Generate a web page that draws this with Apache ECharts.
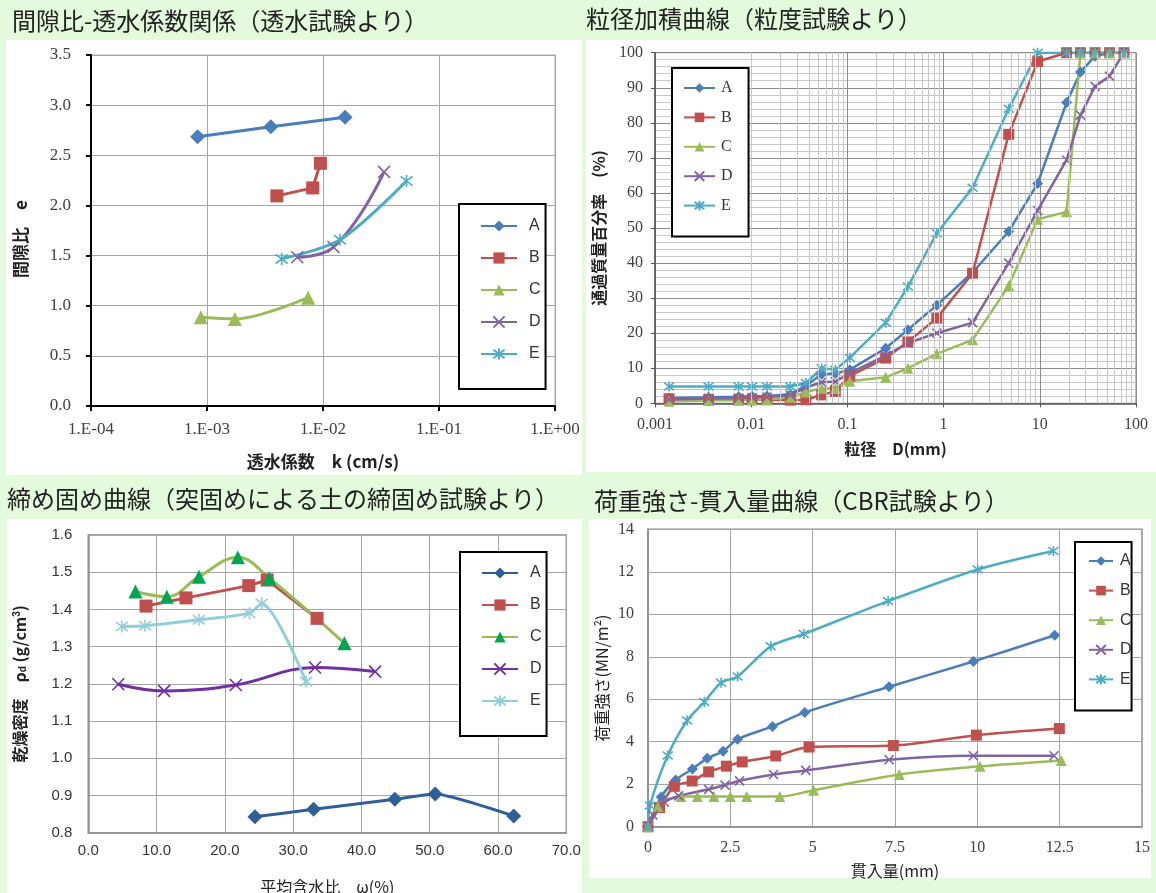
<!DOCTYPE html>
<html><head><meta charset="utf-8">
<script src="https://cdn.jsdelivr.net/npm/echarts@6/dist/echarts.min.js"></script>
<style>html,body{margin:0;padding:0;background:#e3fbdc}#c{width:1156px;height:893px}</style>
</head><body><div id="c"></div>
<script>
// ---------- Panel 1: void ratio vs permeability ----------
const permTickLabels = ['1.E-04','1.E-03','1.E-02','1.E-01','1.E+00'];
const permA_k = [8.3e-4, 3.55e-3, 1.55e-2];  const permA_e = [2.685, 2.785, 2.880];
const permB_k = [4.0e-3, 8.15e-3, 9.5e-3];   const permB_e = [2.095, 2.175, 2.420];
const permC_k = [8.85e-4, 1.74e-3, 7.45e-3]; const permC_e = [0.884, 0.867, 1.080];
const permD_k = [6.0e-3, 1.23e-2, 3.36e-2];  const permD_e = [1.483, 1.585, 2.335];
const permE_k = [4.4e-3, 1.40e-2, 5.25e-2];  const permE_e = [1.467, 1.657, 2.243];

// ---------- Panel 2: grain size accumulation curve ----------
const gradTickLabels = ['0.001','0.01','0.1','1','10','100'];
const grainSize = [0.0014, 0.0036, 0.0074, 0.0102, 0.0146, 0.0255, 0.037, 0.054, 0.075, 0.106,
                   0.25, 0.425, 0.85, 2, 4.75, 9.5, 19, 26.5, 37.5, 53, 75];
const grainA = [1.5, 1.7, 1.9, 2.0, 2.1, 2.6, 5.0, 8.3, 8.5, 9.6, 15.7, 21.0, 28.0, 37.3, 49.0, 62.7, 85.8, 94.5, 99.0, 100, 100];
const grainB = [1.3, 1.0, 1.0, 1.0, 1.0, 0.9, 1.0, 2.4, 3.4, 7.8, 12.9, 17.5, 24.3, 37.1, 76.7, 97.5, 100, 100, 100, 100, 100];
const grainC = [0.6, 0.8, 0.9, 1.0, 1.1, 1.7, 3.2, 4.3, 4.2, 6.3, 7.4, 10.0, 14.1, 18.1, 33.5, 52.5, 54.6, 100, 100, 100, 100];
const grainD = [1.1, 1.4, 1.5, 1.6, 1.8, 2.3, 4.5, 6.0, 6.2, 8.6, 13.6, 17.2, 20.0, 23.0, 40.0, 55.0, 69.4, 82.2, 90.4, 93.3, 100];
const grainE = [4.8, 4.8, 4.8, 4.8, 4.8, 4.8, 5.8, 10.0, 9.6, 13.0, 23.0, 33.3, 48.5, 61.5, 84.0, 100, 100, 100, 100, 100, 100];

// ---------- Panel 3: compaction curves ----------
const compA_w = [24.4, 33.0, 44.9, 50.8, 62.3];       const compA_d = [0.843, 0.863, 0.890, 0.904, 0.845];
const compB_w = [8.45, 14.3, 23.5, 26.2, 33.5];       const compB_d = [1.409, 1.431, 1.464, 1.479, 1.376];
const compC_w = [6.9, 11.5, 16.2, 21.9, 26.5, 37.5];  const compC_d = [1.448, 1.434, 1.488, 1.540, 1.484, 1.309];
const compD_w = [4.4, 11.1, 21.6, 33.2, 42.0];        const compD_d = [1.199, 1.181, 1.197, 1.244, 1.233];
const compE_w = [4.9, 8.3, 16.2, 23.6, 25.4, 31.9];   const compE_d = [1.354, 1.356, 1.372, 1.390, 1.416, 1.206];

// ---------- Panel 4: CBR load-penetration ----------
const cbrA_p = [0, 0.40, 0.84, 1.35, 1.80, 2.28, 2.72, 3.78, 4.76, 7.32, 9.88, 12.35];
const cbrA_q = [0, 1.40, 2.20, 2.72, 3.22, 3.55, 4.12, 4.72, 5.38, 6.59, 7.78, 9.01];
const cbrB_p = [0, 0.35, 0.80, 1.34, 1.84, 2.38, 2.86, 3.88, 4.89, 7.45, 9.97, 12.49];
const cbrB_q = [0, 0.90, 1.90, 2.15, 2.58, 2.85, 3.05, 3.33, 3.75, 3.82, 4.31, 4.62];
const cbrC_p = [0, 0.30, 1.00, 1.50, 2.00, 2.50, 3.00, 4.00, 5.03, 7.63, 10.08, 12.55];
const cbrC_q = [0, 0.95, 1.42, 1.42, 1.42, 1.42, 1.42, 1.42, 1.72, 2.46, 2.84, 3.12];
const cbrD_p = [0, 0.15, 0.50, 0.93, 1.84, 2.34, 2.78, 3.81, 4.79, 7.32, 9.88, 12.33];
const cbrD_q = [0, 0.55, 1.15, 1.45, 1.76, 1.96, 2.16, 2.46, 2.65, 3.15, 3.34, 3.34];
const cbrE_p = [0, 0.06, 0.60, 1.19, 1.71, 2.22, 2.72, 3.73, 4.73, 7.29, 10.01, 12.31];
const cbrE_q = [0, 1.00, 3.35, 5.00, 5.87, 6.78, 7.07, 8.49, 9.07, 10.62, 12.11, 12.98];

const seriesNames = ['A','B','C','D','E'];

// ---------- styling ----------
const CJK = '"Noto Sans CJK JP", sans-serif';
const SERIF = '"Liberation Serif", "DejaVu Serif", serif';
const SANS = '"Liberation Sans", Arial, sans-serif';
const SYM_X = 'path://M0,0L10,10M10,0L0,10';
const SYM_STAR = 'path://M0,0L10,10M10,0L0,10M5,-1.5L5,11.5';
const isPath = s => s.indexOf('path://') === 0;
const zip = (xs, ys) => xs.map((x, i) => [x, ys[i]]);

function mk(name, idx, xs, ys, lineColor, markColor, sym, size, width, smooth) {
  return {
    name: name, type: 'line', xAxisIndex: idx, yAxisIndex: idx,
    data: zip(xs, ys), symbol: sym, symbolSize: size, showSymbol: true,
    smooth: smooth || false, z: 3,
    lineStyle: { color: lineColor, width: width },
    itemStyle: { color: markColor, borderColor: markColor, borderWidth: isPath(sym) ? 1.6 : 0 },
    emphasis: { disabled: true }, animation: false
  };
}

const C1 = { A: '#4a7ebb', B: '#c0504d', C: '#9bbb59', D: '#8064a2', E: '#4bacc6' };

// minor log grid positions for panel 2 (2..9 in each decade)
const minorLog = [];
for (let e = -3; e <= 1; e++) for (let m = 2; m <= 9; m++) minorLog.push(+(m * Math.pow(10, e)).toPrecision(3));

const series = [
  { name: 'minor', type: 'line', xAxisIndex: 1, yAxisIndex: 1, data: [], z: 1, silent: true,
    markLine: { silent: true, symbol: ['none','none'], label: { show: false }, animation: false,
      lineStyle: { color: '#c8c8c8', width: 1, type: 'solid' }, emphasis: { disabled: true },
      data: minorLog.map(v => ({ xAxis: v })) } },
  // panel 1
  mk('A1', 0, permA_k, permA_e, C1.A, C1.A, 'diamond', 15, 3, false),
  mk('B1', 0, permB_k, permB_e, C1.B, C1.B, 'rect', 13, 3, false),
  mk('C1', 0, permC_k, permC_e, C1.C, C1.C, 'triangle', 14, 3, 0.3),
  mk('D1', 0, permD_k, permD_e, C1.D, C1.D, SYM_X, 12, 3, 0.45),
  mk('E1', 0, permE_k, permE_e, C1.E, C1.E, SYM_STAR, 12, 3, 0.3),
  // panel 2
  mk('A2', 1, grainSize, grainA, C1.A, C1.A, 'diamond', 11, 2.5, false),
  mk('B2', 1, grainSize, grainB, C1.B, C1.B, 'rect', 11, 2.5, false),
  mk('C2', 1, grainSize, grainC, C1.C, C1.C, 'triangle', 11, 2.5, false),
  mk('D2', 1, grainSize, grainD, C1.D, C1.D, SYM_X, 9, 2.5, false),
  mk('E2', 1, grainSize, grainE, C1.E, C1.E, SYM_STAR, 10, 2.5, false),
  // panel 3
  mk('A3', 2, compA_w, compA_d, '#2f5f98', '#2f5f98', 'diamond', 15, 3, 0.15),
  mk('B3', 2, compB_w, compB_d, '#c0504d', '#c0504d', 'rect', 13, 3, false),
  mk('C3', 2, compC_w, compC_d, '#9bbb59', '#00a651', 'triangle', 14, 3, 0.4),
  mk('D3', 2, compD_w, compD_d, '#7030a0', '#7030a0', SYM_X, 12, 3, 0.4),
  mk('E3', 2, compE_w, compE_d, '#92cddc', '#92cddc', SYM_STAR, 12, 3, 0.25),
  // panel 4
  mk('A4', 3, cbrA_p, cbrA_q, C1.A, C1.A, 'diamond', 11, 2.5, 0.3),
  mk('B4', 3, cbrB_p, cbrB_q, C1.B, C1.B, 'rect', 11, 2.5, 0.3),
  mk('C4', 3, cbrC_p, cbrC_q, C1.C, C1.C, 'triangle', 11, 2.5, 0.3),
  mk('D4', 3, cbrD_p, cbrD_q, C1.D, C1.D, SYM_X, 9, 2.5, 0.3),
  mk('E4', 3, cbrE_p, cbrE_q, C1.E, C1.E, SYM_STAR, 10, 2.5, 0.3)
];

function legendCfg(suffix, left, top, pad, iw, ih, gap, font, fsz, tpad) {
  return {
    data: seriesNames.map(n => n + suffix), orient: 'vertical', left: left, top: top,
    padding: pad, itemWidth: iw, itemHeight: ih, itemGap: gap,
    borderColor: '#000', borderWidth: 2, backgroundColor: '#fff', borderRadius: 0,
    selectedMode: false, formatter: n => n.charAt(0),
    textStyle: { fontFamily: font, fontSize: fsz, color: '#333', padding: [0, 0, 0, tpad] }
  };
}

const titleStyle = { fontFamily: CJK, fontSize: 24, fontWeight: 'normal', color: '#222' };
const nameBold = sz => ({ fontFamily: CJK, fontSize: sz, fontWeight: 'bold', color: '#222' });
const nameReg = sz => ({ fontFamily: CJK, fontSize: sz, fontWeight: 'normal', color: '#222' });
const rect = (x, y, w, h, fill, z) => ({ type: 'rect', shape: { x: x, y: y, width: w, height: h }, style: { fill: fill }, z: z, silent: true });

const option = {
  backgroundColor: '#e3fbdc',
  animation: false,
  graphic: [
    rect(6, 40, 576, 435, '#ffffff', -100), rect(586, 40, 570, 432, '#ffffff', -100),
    rect(7, 519, 575, 374, '#ffffff', -100), rect(589, 519, 562, 359, '#ffffff', -100),
    // panel edge over the overflowing tick label of panel 1
    rect(582, 412, 4, 36, '#e3fbdc', 100), rect(586, 412, 14, 36, '#ffffff', 100)
  ],
  title: [
    { text: '間隙比-透水係数関係（透水試験より）', left: 12, top: 9, padding: 0, textStyle: titleStyle },
    { text: '粒径加積曲線（粒度試験より）', left: 586, top: 7, padding: 0, textStyle: titleStyle },
    { text: '締め固め曲線（突固めによる土の締固め試験より）', left: 7, top: 487, padding: 0, textStyle: titleStyle },
    { text: '荷重強さ-貫入量曲線（CBR試験より）', left: 594, top: 489, padding: 0, textStyle: titleStyle }
  ],
  legend: [
    legendCfg('1', 459, 204, [14, 5, 27, 21], 36, 14, 16, SANS, 16, 7),
    legendCfg('2', 672, 68, [12, 16, 23, 11], 31, 12, 13.4, SERIF, 16, 1),
    legendCfg('3', 460, 552, [13, 5, 27, 21], 36, 14, 16, SANS, 16, 7),
    legendCfg('4', 1075, 542, [11, 0, 23, 13], 24, 12, 13.6, SANS, 16, 2)
  ],
  grid: [
    { left: 91, top: 55, width: 464, height: 351, show: true, borderColor: '#a6a6a6', borderWidth: 1, backgroundColor: 'transparent', containLabel: false, outerBoundsMode: 'none' },
    { left: 655, top: 52.7, width: 481, height: 350.6, show: true, borderColor: '#777', borderWidth: 1, backgroundColor: 'transparent', containLabel: false, outerBoundsMode: 'none' },
    { left: 88.3, top: 535, width: 478, height: 297.7, show: true, borderColor: '#8c8c8c', borderWidth: 1.5, backgroundColor: 'transparent', containLabel: false, outerBoundsMode: 'none' },
    { left: 648, top: 529.3, width: 494, height: 297.4, show: true, borderColor: '#8c8c8c', borderWidth: 1.5, backgroundColor: 'transparent', containLabel: false, outerBoundsMode: 'none' }
  ],
  xAxis: [
    { gridIndex: 0, type: 'log', logBase: 10, min: 1e-4, max: 1,
      axisLine: { show: true, onZero: false, lineStyle: { color: '#000', width: 2 } },
      axisTick: { show: true, length: 5, lineStyle: { color: '#000', width: 2 } },
      splitLine: { show: true, lineStyle: { color: '#a6a6a6', width: 1 } },
      axisLabel: { formatter: v => permTickLabels[Math.round(Math.log10(v)) + 4], fontFamily: SERIF, fontSize: 17, color: '#404040', margin: 15, showMinLabel: true, showMaxLabel: true },
      name: '透水係数　k (cm/s)', nameLocation: 'middle', nameGap: 47, nameTextStyle: nameBold(17) },
    { gridIndex: 1, type: 'log', logBase: 10, min: 0.001, max: 100,
      axisLine: { show: true, onZero: false, lineStyle: { color: '#555', width: 1.5 } },
      axisTick: { show: true, length: 4, lineStyle: { color: '#555', width: 1 } },
      splitLine: { show: true, lineStyle: { color: '#8c8c8c', width: 1 } },
      axisLabel: { formatter: v => gradTickLabels[Math.round(Math.log10(v)) + 3], fontFamily: SERIF, fontSize: 16, color: '#404040', margin: 13, showMinLabel: true, showMaxLabel: true },
      name: '粒径　D(mm)', nameLocation: 'middle', nameGap: 38, nameTextStyle: nameBold(16) },
    { gridIndex: 2, type: 'value', min: 0, max: 70, interval: 10,
      axisLine: { show: true, onZero: false, lineStyle: { color: '#8c8c8c', width: 1.5 } },
      axisTick: { show: false },
      splitLine: { show: true, lineStyle: { color: '#a6a6a6', width: 1 } },
      axisLabel: { formatter: v => v.toFixed(1), fontFamily: SANS, fontSize: 15, color: '#333', margin: 11, showMinLabel: true, showMaxLabel: true },
      name: '平均含水比　ω(%)', nameLocation: 'middle', nameGap: 46, nameTextStyle: nameReg(16) },
    { gridIndex: 3, type: 'value', min: 0, max: 15, interval: 2.5,
      axisLine: { show: true, onZero: false, lineStyle: { color: '#8c8c8c', width: 1.5 } },
      axisTick: { show: false },
      splitLine: { show: true, lineStyle: { color: '#a6a6a6', width: 1 } },
      axisLabel: { fontFamily: SERIF, fontSize: 16, color: '#404040', margin: 13, showMinLabel: true, showMaxLabel: true },
      name: '貫入量(mm)', nameLocation: 'middle', nameGap: 36, nameTextStyle: nameReg(16) }
  ],
  yAxis: [
    { gridIndex: 0, type: 'value', min: 0, max: 3.5, interval: 0.5,
      axisLine: { show: true, onZero: false, lineStyle: { color: '#000', width: 2 } },
      axisTick: { show: true, length: 5, lineStyle: { color: '#000', width: 2 } },
      splitLine: { show: true, lineStyle: { color: '#a6a6a6', width: 1 } },
      axisLabel: { formatter: v => v.toFixed(1), fontFamily: SERIF, fontSize: 17, color: '#404040', margin: 20 },
      name: '間隙比　e　', nameLocation: 'middle', nameRotate: 90, nameGap: 62, nameTextStyle: nameBold(17) },
    { gridIndex: 1, type: 'value', min: 0, max: 100, interval: 10,
      axisLine: { show: true, onZero: false, lineStyle: { color: '#555', width: 1.5 } },
      axisTick: { show: true, length: 4, lineStyle: { color: '#555', width: 1 } },
      splitLine: { show: true, lineStyle: { color: '#8c8c8c', width: 1 } },
      minorTick: { show: false, splitNumber: 5 },
      minorSplitLine: { show: true, lineStyle: { color: '#c8c8c8', width: 1 } },
      axisLabel: { fontFamily: SERIF, fontSize: 16, color: '#404040', margin: 12 },
      name: '通過質量百分率　(%)', nameLocation: 'middle', nameRotate: 90, nameGap: 48, nameTextStyle: nameBold(16) },
    { gridIndex: 2, type: 'value', min: 0.8, max: 1.6, interval: 0.1,
      axisLine: { show: true, onZero: false, lineStyle: { color: '#8c8c8c', width: 1.5 } },
      axisTick: { show: false },
      splitLine: { show: true, lineStyle: { color: '#a6a6a6', width: 1 } },
      axisLabel: { formatter: v => v.toFixed(1), fontFamily: SANS, fontSize: 15, color: '#333', margin: 16 },
      name: '乾燥密度　ρ{d|d} (g/cm{s|3})', nameLocation: 'middle', nameRotate: 90, nameGap: 60,
      nameTextStyle: { fontFamily: CJK, fontSize: 16, fontWeight: 'bold', color: '#222',
        rich: { d: { fontSize: 10, fontWeight: 'bold', verticalAlign: 'bottom', fontFamily: SANS, color: '#222' },
                s: { fontSize: 10, fontWeight: 'bold', verticalAlign: 'top', fontFamily: SANS, color: '#222' } } } },
    { gridIndex: 3, type: 'value', min: 0, max: 14, interval: 2,
      axisLine: { show: true, onZero: false, lineStyle: { color: '#8c8c8c', width: 1.5 } },
      axisTick: { show: false },
      splitLine: { show: true, lineStyle: { color: '#a6a6a6', width: 1 } },
      axisLabel: { fontFamily: SERIF, fontSize: 16, color: '#404040', margin: 14 },
      name: '荷重強さ(MN/m²)', nameLocation: 'middle', nameRotate: 90, nameGap: 38, nameTextStyle: nameReg(16) }
  ],
  series: series
};

const chart = echarts.init(document.getElementById('c'), null, { renderer: 'canvas', width: 1156, height: 893 });
chart.setOption(option);
</script></body></html>
